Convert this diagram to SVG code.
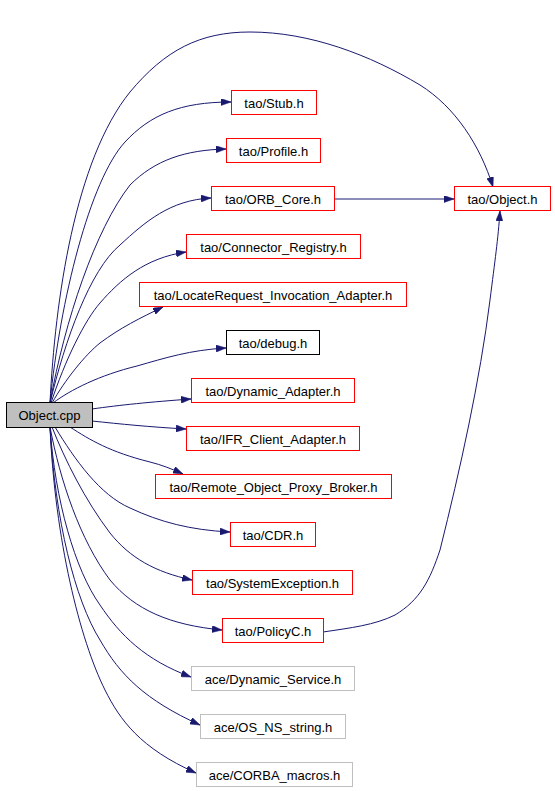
<svg xmlns="http://www.w3.org/2000/svg" width="555" height="791" viewBox="0 0 555 791">
<style>
.n rect{fill:#fff;stroke:#ff0000;stroke-width:1}
.n text{font-family:"Liberation Sans",Arial,sans-serif;font-size:13px;fill:#000;text-anchor:middle}
#n_cpp rect{fill:#bfbfbf;stroke:#000}
#n_debug rect{stroke:#000}
.ace rect{stroke:#bfbfbf}
.e path{fill:none;stroke:#191970;stroke-width:1;marker-end:url(#ah)}
</style>
<defs>
<marker id="ah" markerUnits="userSpaceOnUse" markerWidth="10" markerHeight="7" refX="10" refY="3.5" orient="auto">
<path d="M0,0 L10,3.5 L0,7 z" fill="#191970" stroke="#191970" stroke-width="0.5"/>
</marker>
</defs>
<rect width="555" height="791" fill="#fff"/>
<g id="edges" class="e">
<path d="M50,403 C55,300 75,160 130,92 C165,50 200,32 250,32 C310,32 370,55 420,85 C455,107 480,145 493,187"/>
<path d="M50,403 C60,300 90,180 125,142 C150,115 180,102 231,102"/>
<path d="M50,403 C65,320 95,230 130,185 C155,160 185,150 226,149"/>
<path d="M50,403 C65,340 90,270 120,245 C145,222 170,200 211,198"/>
<path d="M51,403 C65,360 85,320 100,303 C120,280 145,258 186,252"/>
<path d="M52,403 C65,380 85,355 100,343 C120,328 140,318 163,307"/>
<path d="M53,403 C70,390 100,375 137,366 C165,358 190,350 226,348"/>
<path d="M92,409 C120,405 150,402 191,399"/>
<path d="M92,421 C120,424 150,427 186,429"/>
<path d="M70,427 C90,440 110,452 150,462 C162,465 172,469 183,474"/>
<path d="M55,427 C75,460 100,495 130,508 C160,522 190,530 230,532"/>
<path d="M52,427 C65,460 85,500 110,533 C130,558 155,572 192,580"/>
<path d="M50,427 C60,480 80,540 110,580 C135,610 170,625 222,630"/>
<path d="M50,427 C55,500 75,570 100,605 C120,635 145,660 191,677"/>
<path d="M50,427 C55,520 75,600 100,640 C120,675 145,700 200,725"/>
<path d="M50,427 C55,540 80,640 105,690 C120,720 140,748 196,773"/>
<path d="M334,199 L454,199"/>
<path d="M323,632 C350,628 375,625 395,615 C420,600 430,580 440,550 C460,470 480,380 490,300 C495,260 498,240 500,211"/>
</g>
<g id="n_cpp" class="n"><rect x="6.5" y="402.5" width="86" height="25"/><text x="49.5" y="420">Object.cpp</text></g>
<g id="n_stub" class="n"><rect x="231.5" y="90.5" width="85" height="24"/><text x="274" y="107.5">tao/Stub.h</text></g>
<g id="n_profile" class="n"><rect x="226.5" y="138.5" width="94" height="24"/><text x="273.5" y="155.5">tao/Profile.h</text></g>
<g id="n_orbcore" class="n"><rect x="211.5" y="186.5" width="123" height="24"/><text x="273" y="203.5">tao/ORB_Core.h</text></g>
<g id="n_objecth" class="n"><rect x="454.5" y="186.5" width="96" height="24"/><text x="502.5" y="203.5">tao/Object.h</text></g>
<g id="n_connreg" class="n"><rect x="186.5" y="234.5" width="174" height="24"/><text x="273.5" y="251.5">tao/Connector_Registry.h</text></g>
<g id="n_locate" class="n"><rect x="139.5" y="282.5" width="267" height="24"/><text x="273" y="299.5">tao/LocateRequest_Invocation_Adapter.h</text></g>
<g id="n_debug" class="n"><rect x="226.5" y="330.5" width="93" height="24"/><text x="273" y="347.5">tao/debug.h</text></g>
<g id="n_dynad" class="n"><rect x="191.5" y="378.5" width="163" height="24"/><text x="273" y="395.5">tao/Dynamic_Adapter.h</text></g>
<g id="n_ifr" class="n"><rect x="186.5" y="426.5" width="173" height="24"/><text x="273" y="443.5">tao/IFR_Client_Adapter.h</text></g>
<g id="n_remote" class="n"><rect x="155.5" y="474.5" width="236" height="24"/><text x="273.5" y="491.5">tao/Remote_Object_Proxy_Broker.h</text></g>
<g id="n_cdr" class="n"><rect x="230.5" y="522.5" width="85" height="24"/><text x="273" y="539.5">tao/CDR.h</text></g>
<g id="n_sysexc" class="n"><rect x="192.5" y="570.5" width="160" height="24"/><text x="272.5" y="587.5">tao/SystemException.h</text></g>
<g id="n_policyc" class="n"><rect x="222.5" y="618.5" width="101" height="24"/><text x="273" y="635.5">tao/PolicyC.h</text></g>
<g id="n_dynsvc" class="n ace"><rect x="191.5" y="666.5" width="163" height="24"/><text x="273" y="683.5">ace/Dynamic_Service.h</text></g>
<g id="n_osns" class="n ace"><rect x="200.5" y="714.5" width="145" height="24"/><text x="273" y="731.5">ace/OS_NS_string.h</text></g>
<g id="n_corba" class="n ace"><rect x="196.5" y="762.5" width="156" height="24"/><text x="274.5" y="779.5">ace/CORBA_macros.h</text></g>
</svg>
